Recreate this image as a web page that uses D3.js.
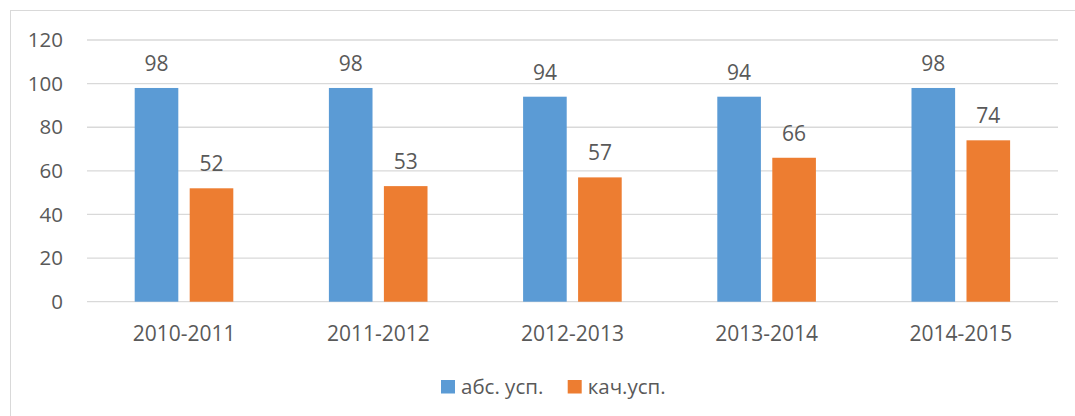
<!DOCTYPE html>
<html>
<head>
<meta charset="utf-8">
<script src="https://cdn.jsdelivr.net/npm/d3@7"></script>
<style>
  body { margin: 0; background: #fff; }
  text { font-family: "Open Sans", sans-serif; fill: #595959; }
</style>
</head>
<body>
<div id="chart"></div>
<script>
// Data
var years = ["2010-2011", "2011-2012", "2012-2013", "2013-2014", "2014-2015"];
var seriesNames = ["абс. усп.", "кач.усп."];
var absValues = [98, 98, 94, 94, 98];
var qualValues = [52, 53, 57, 66, 74];
var seriesColors = ["#5B9BD5", "#ED7D31"];
var yTicks = [0, 20, 40, 60, 80, 100, 120];

var svgWidth = 1075;
var svgHeight = 416;

var plot = { left: 87, right: 1058, top: 40, bottom: 301.7 };

var svg = d3.select("#chart")
            .append("svg")
            .attr("width", svgWidth)
            .attr("height", svgHeight);

// outer chart border (runs off the right and bottom edges)
svg.append("rect")
   .attr("x", 10.5)
   .attr("y", 10.5)
   .attr("width", 1100)
   .attr("height", 450)
   .attr("fill", "none")
   .attr("stroke", "#D9D9D9")
   .attr("stroke-width", 1);

var x0 = d3.scaleBand()
           .domain(years)
           .range([plot.left, plot.right]);

var bw = x0.bandwidth();
var x1 = d3.scaleBand()
           .domain(seriesNames)
           .range([bw * 0.2456, bw * 0.7534])
           .paddingInner(0.207);

var y = d3.scaleLinear()
          .domain([0, 120])
          .range([plot.bottom, plot.top]);

// gridlines
svg.append("g")
   .selectAll("line")
   .data(yTicks)
   .enter()
   .append("line")
   .attr("x1", plot.left)
   .attr("x2", plot.right)
   .attr("y1", d => y(d))
   .attr("y2", d => y(d))
   .attr("stroke", "#D9D9D9")
   .attr("stroke-width", 1.3);

// y tick labels
svg.append("g")
   .selectAll("text")
   .data(yTicks)
   .enter()
   .append("text")
   .attr("x", 63)
   .attr("y", d => y(d))
   .attr("dy", "0.35em")
   .attr("text-anchor", "end")
   .attr("font-size", "20.5px")
   .text(d => d);

var rows = years.map(function(yr, i) {
    return { year: yr, values: [absValues[i], qualValues[i]] };
});

var groups = svg.selectAll("g.grp")
                .data(rows)
                .enter()
                .append("g")
                .attr("class", "grp")
                .attr("transform", d => `translate(${x0(d.year)}, 0)`);

groups.selectAll("rect")
      .data(d => d.values.map((v, j) => ({ name: seriesNames[j], value: v, color: seriesColors[j] })))
      .enter()
      .append("rect")
      .attr("x", d => x1(d.name))
      .attr("y", d => y(d.value))
      .attr("width", x1.bandwidth())
      .attr("height", d => y(0) - y(d.value))
      .attr("fill", d => d.color);

groups.selectAll("text.val")
      .data(d => d.values.map((v, j) => ({ name: seriesNames[j], value: v })))
      .enter()
      .append("text")
      .attr("class", "val")
      .attr("x", d => x1(d.name) + x1.bandwidth() / 2)
      .attr("y", d => y(d.value) - 17)
      .attr("text-anchor", "middle")
      .attr("font-size", "21px")
      .text(d => d.value);

// category labels
svg.append("g")
   .selectAll("text")
   .data(years)
   .enter()
   .append("text")
   .attr("x", d => x0(d) + bw / 2)
   .attr("y", 341)
   .attr("text-anchor", "middle")
   .attr("font-size", "21px")
   .text(d => d);

// legend
var legendX = [441, 567.7];
var legend = svg.append("g");
seriesNames.forEach(function(name, i) {
    legend.append("rect")
          .attr("x", legendX[i])
          .attr("y", 380)
          .attr("width", 14)
          .attr("height", 13.5)
          .attr("fill", seriesColors[i]);
    legend.append("text")
          .attr("x", legendX[i] + 20)
          .attr("y", 387)
          .attr("dy", "0.35em")
          .attr("font-size", "20.5px")
          .text(name);
});
</script>
</body>
</html>
